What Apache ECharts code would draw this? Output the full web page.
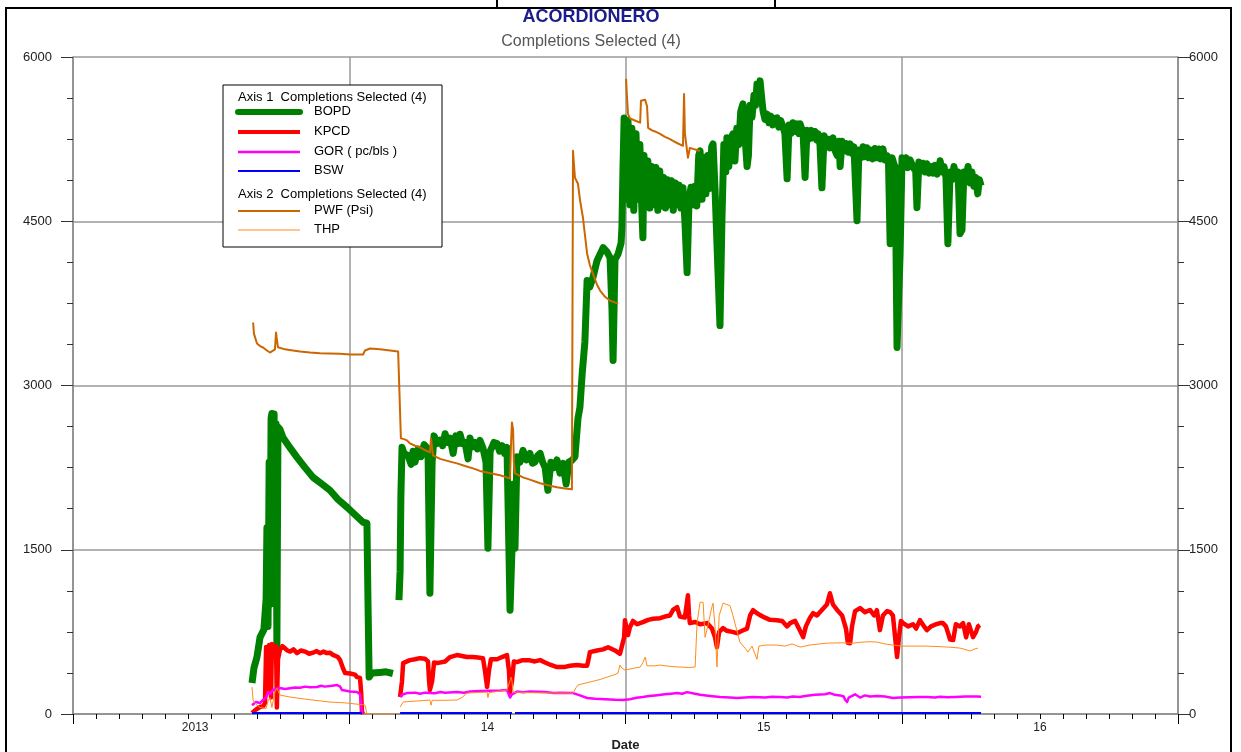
<!DOCTYPE html>
<html>
<head>
<meta charset="utf-8">
<script src="https://cdn.jsdelivr.net/npm/echarts@6/dist/echarts.min.js"></script>
<style>
html,body{margin:0;padding:0;background:#fff;}
#chart{width:1241px;height:752px;}
</style>
</head>
<body>
<div id="chart"></div>
<script>
// x values are decimal years, y values in axis units
const yearLabels = ['2013', '14', '15', '16'];
const leftTicks = [0, 1500, 3000, 4500, 6000];

const bopd = [
[2013.648,283],[2013.655,420],[2013.666,520],[2013.677,700],[2013.691,770],[2013.699,1050],[2013.702,1700],[2013.706,800],[2013.710,2300],[2013.713,1000],[2013.717,2700],[2013.720,2745],[2013.724,2500],[2013.728,2740],[2013.731,1100],[2013.735,2650],[2013.738,611],[2013.742,2620],[2013.749,2600],[2013.760,2526],[2013.786,2430],[2013.811,2344],[2013.840,2250],[2013.869,2161],[2013.901,2100],[2013.930,2043],[2013.959,1960],[2013.992,1888],[2014.021,1820],[2014.050,1751],[2014.064,1742],[2014.068,1000],[2014.072,337],[2014.082,374],[2014.111,380],[2014.133,385],[2014.158,370],
[2014.170,'-'],
[2014.180,1040],[2014.184,1300],[2014.187,2000],[2014.191,2435],[2014.198,2380],[2014.213,2360],[2014.224,2280],[2014.231,2400],[2014.238,2300],[2014.249,2420],[2014.260,2350],[2014.271,2460],[2014.285,2420],[2014.292,1103],[2014.300,2300],[2014.307,2540],[2014.318,2470],[2014.329,2500],[2014.338,2450],[2014.347,2560],[2014.356,2480],[2014.365,2520],[2014.376,2380],[2014.386,2540],[2014.394,2470],[2014.401,2555],[2014.410,2470],[2014.419,2480],[2014.430,2330],[2014.437,2520],[2014.446,2440],[2014.455,2480],[2014.464,2420],[2014.473,2500],[2014.484,2430],[2014.495,2300],[2014.502,1514],[2014.510,2400],[2014.517,2440],[2014.524,2480],[2014.535,2470],[2014.544,2400],[2014.553,2450],[2014.562,2380],[2014.571,2435],[2014.578,1500],[2014.582,948],[2014.589,1500],[2014.596,2100],[2014.600,1514],[2014.607,2350],[2014.618,2300],[2014.629,2407],[2014.641,2320],[2014.654,2380],[2014.663,2290],[2014.672,2300],[2014.682,2360],[2014.691,2380],[2014.700,2300],[2014.709,2250],[2014.719,2043],[2014.730,2300],[2014.741,2250],[2014.752,2320],[2014.763,2200],[2014.774,2289],[2014.785,2100],[2014.795,2300],[2014.806,2316],[2014.817,2350],[2014.828,2700],[2014.835,2800],[2014.843,3100],[2014.853,3400],[2014.861,3958],[2014.871,3900],[2014.882,3985],[2014.897,4140],[2014.908,4200],[2014.919,4259],[2014.933,4220],[2014.944,4168],[2014.951,3700],[2014.955,3228],[2014.962,4150],[2014.973,4200],[2014.984,4300],[2014.987,4441],[2014.991,5000],
[2014.995,5444],[2015.002,4700],[2015.009,5420],[2015.016,4650],[2015.023,5350],[2015.030,4600],[2015.038,5300],[2015.045,4700],[2015.052,5200],[2015.059,4620],[2015.063,4350],[2015.067,5100],[2015.074,4650],[2015.081,5050],[2015.088,4620],[2015.095,5000],[2015.102,4650],[2015.110,4990],[2015.117,4600],[2015.124,4960],[2015.131,4640],[2015.138,4900],[2015.145,4620],[2015.152,4880],[2015.159,4650],[2015.166,4870],[2015.173,4600],[2015.180,4850],[2015.187,4650],[2015.194,4830],[2015.201,4620],[2015.208,4806],[2015.215,4500],[2015.223,4031],[2015.230,4700],[2015.237,4810],[2015.244,4650],[2015.251,4820],[2015.258,4640],[2015.265,5100],[2015.270,5143],[2015.277,4700],[2015.284,5080],[2015.291,4750],[2015.298,5100],[2015.305,4800],[2015.312,5180],[2015.317,5207],[2015.324,4800],[2015.331,4300],[2015.342,3547],[2015.349,4500],[2015.356,5200],[2015.363,4950],[2015.367,5262],[2015.374,5000],[2015.381,5250],[2015.389,5298],[2015.396,5050],[2015.403,5350],[2015.410,5200],[2015.417,5500],[2015.425,5572],[2015.432,5300],[2015.436,5300],[2015.440,5000],[2015.445,5100],[2015.451,5560],[2015.458,5450],[2015.465,5650],[2015.471,5560],[2015.476,5754],[2015.481,5650],[2015.487,5782],[2015.494,5600],
[2015.498,5508],[2015.505,5430],[2015.512,5480],[2015.519,5400],[2015.526,5460],[2015.533,5380],[2015.540,5440],[2015.548,5444],[2015.555,5360],[2015.562,5420],[2015.567,5420],[2015.574,5330],[2015.577,5300],[2015.585,4888],[2015.592,5380],[2015.599,5300],[2015.606,5400],[2015.614,5320],[2015.621,5390],[2015.628,5300],[2015.632,5390],[2015.643,5300],[2015.650,4900],[2015.657,5330],[2015.664,5250],[2015.672,5330],[2015.679,5260],[2015.686,5320],[2015.693,5240],[2015.697,5300],[2015.704,5200],[2015.711,4806],[2015.719,5280],[2015.726,5200],[2015.733,5250],[2015.740,5170],[2015.751,5262],[2015.758,5150],[2015.766,5100],[2015.773,5230],[2015.777,5000],[2015.784,5230],[2015.791,5140],[2015.798,5210],[2015.806,5130],[2015.813,5207],[2015.820,5120],[2015.827,5180],[2015.838,4505],[2015.845,5150],[2015.852,5080],[2015.860,5180],[2015.867,5090],[2015.874,5171],[2015.881,5080],[2015.888,5150],[2015.895,5070],[2015.903,5165],[2015.910,5080],[2015.917,5160],[2015.924,5070],[2015.932,5161],[2015.939,5060],[2015.947,5100],[2015.952,5040],[2015.958,4295],[2015.965,5080],[2015.972,5020],[2015.976,5000],[2015.983,3347],[2015.994,4200],[2016.001,5080],[2016.008,5000],[2016.015,5080],[2016.022,4990],[2016.030,5060],[2016.037,5050],[2016.044,4980],[2016.050,5000],[2016.055,4624],[2016.062,5040],[2016.069,4960],[2016.077,5030],[2016.084,4950],[2016.091,5025],[2016.099,4940],[2016.106,5000],[2016.113,4940],[2016.120,5010],[2016.128,4930],[2016.135,5000],[2016.139,5052],[2016.146,4950],[2016.153,5000],[2016.160,4900],[2016.167,4295],[2016.175,4950],[2016.182,4880],[2016.189,5000],[2016.196,4900],[2016.204,4950],[2016.211,4386],[2016.218,4420],[2016.225,4950],[2016.232,4880],[2016.240,5000],[2016.247,4850],[2016.254,4950],[2016.261,4820],[2016.268,4900],[2016.275,4750],[2016.281,4880],[2016.287,4824]
];

const kpcd = [
[2013.648,10],[2013.662,40],[2013.677,64],[2013.688,70],[2013.695,100],[2013.699,611],[2013.706,200],[2013.710,630],[2013.717,150],[2013.720,640],[2013.728,560],[2013.735,620],[2013.738,60],[2013.742,500],[2013.749,584],[2013.758,620],[2013.767,600],[2013.776,580],[2013.786,570],[2013.798,590],[2013.811,556],[2013.825,580],[2013.840,570],[2013.855,550],[2013.869,560],[2013.882,575],[2013.894,555],[2013.907,570],[2013.919,556],[2013.930,560],[2013.941,540],[2013.959,520],[2013.967,492],[2013.977,420],[2013.985,374],[2014.003,370],[2014.021,360],[2014.028,337],[2014.039,330],[2014.043,200],[2014.046,20],[2014.050,0],
[2014.170,'-'],
[2014.184,155],[2014.191,300],[2014.195,465],[2014.209,480],[2014.220,492],[2014.238,500],[2014.256,510],[2014.274,505],[2014.285,480],[2014.289,300],[2014.292,219],[2014.300,300],[2014.307,470],[2014.318,465],[2014.347,480],[2014.356,500],[2014.365,520],[2014.390,538],[2014.408,530],[2014.426,520],[2014.448,520],[2014.466,515],[2014.484,510],[2014.491,400],[2014.499,246],[2014.506,400],[2014.513,500],[2014.535,500],[2014.553,520],[2014.571,538],[2014.578,400],[2014.582,200],[2014.589,300],[2014.596,480],[2014.607,474],[2014.625,490],[2014.654,490],[2014.672,480],[2014.691,492],[2014.709,470],[2014.727,450],[2014.752,429],[2014.781,430],[2014.799,440],[2014.824,447],[2014.846,440],[2014.861,440],[2014.868,520],[2014.871,565],[2014.897,580],[2014.919,590],[2014.937,610],[2014.944,602],[2014.962,580],[2014.980,550],[2014.987,538],[2014.995,700],[2014.998,857],[2015.009,720],[2015.016,793],[2015.027,850],[2015.042,820],[2015.063,839],[2015.082,860],[2015.100,870],[2015.125,875],[2015.143,890],[2015.161,900],[2015.172,950],[2015.187,976],[2015.197,890],[2015.215,880],[2015.226,1085],[2015.230,900],[2015.233,830],[2015.252,840],[2015.270,820],[2015.295,830],[2015.313,780],[2015.324,700],[2015.331,611],[2015.339,750],[2015.353,784],[2015.367,760],[2015.386,750],[2015.404,738],[2015.422,760],[2015.440,780],[2015.451,900],[2015.462,948],[2015.476,920],[2015.487,903],[2015.505,880],[2015.523,860],[2015.548,857],[2015.567,850],[2015.585,800],[2015.596,830],[2015.614,850],[2015.632,760],[2015.643,702],[2015.653,800],[2015.668,880],[2015.679,921],[2015.693,900],[2015.711,950],[2015.729,1000],[2015.740,1103],[2015.751,1000],[2015.766,950],[2015.784,900],[2015.798,780],[2015.805,650],[2015.813,647],[2015.820,800],[2015.831,940],[2015.849,967],[2015.867,930],[2015.885,950],[2015.900,900],[2015.910,948],[2015.921,766],[2015.932,900],[2015.947,940],[2015.958,930],[2015.968,900],[2015.976,700],[2015.983,520],[2015.990,700],[2015.997,850],[2016.005,830],[2016.023,800],[2016.041,820],[2016.052,780],[2016.066,857],[2016.081,800],[2016.091,766],[2016.106,800],[2016.124,820],[2016.139,830],[2016.149,830],[2016.160,800],[2016.175,680],[2016.186,675],[2016.196,820],[2016.211,800],[2016.222,830],[2016.233,700],[2016.243,820],[2016.258,702],[2016.269,750],[2016.276,800],[2016.283,812]
];

const gor = [
[2013.648,80],[2013.662,110],[2013.677,100],[2013.688,128],[2013.699,150],[2013.706,200],[2013.713,180],[2013.724,219],[2013.735,230],[2013.749,237],[2013.767,228],[2013.786,235],[2013.804,242],[2013.822,240],[2013.840,250],[2013.858,245],[2013.883,246],[2013.898,258],[2013.912,250],[2013.938,258],[2013.956,265],[2013.967,250],[2013.974,219],[2014.003,205],[2014.028,200],[2014.039,180],[2014.043,100],[2014.046,0],
[2014.170,'-'],
[2014.184,155],[2014.195,180],[2014.209,191],[2014.238,195],[2014.256,185],[2014.274,195],[2014.310,190],[2014.330,200],[2014.347,195],[2014.390,200],[2014.415,195],[2014.437,205],[2014.473,210],[2014.510,212],[2014.546,215],[2014.571,219],[2014.582,150],[2014.589,180],[2014.607,205],[2014.630,198],[2014.654,205],[2014.709,200],[2014.740,192],[2014.763,195],[2014.810,191],[2014.835,170],[2014.861,146],[2014.890,140],[2014.926,135],[2014.962,130],[2014.991,128],[2015.016,135],[2015.040,148],[2015.063,155],[2015.085,165],[2015.107,170],[2015.143,180],[2015.165,185],[2015.187,191],[2015.205,185],[2015.223,200],[2015.252,185],[2015.270,175],[2015.306,164],[2015.342,155],[2015.378,150],[2015.404,146],[2015.433,150],[2015.462,155],[2015.505,150],[2015.530,158],[2015.559,155],[2015.585,150],[2015.606,160],[2015.630,155],[2015.650,165],[2015.686,175],[2015.722,180],[2015.740,191],[2015.758,175],[2015.777,170],[2015.790,160],[2015.795,130],[2015.802,109],[2015.808,150],[2015.813,160],[2015.831,180],[2015.849,150],[2015.867,170],[2015.885,160],[2015.910,165],[2015.939,160],[2015.968,146],[2015.994,150],[2016.030,152],[2016.066,155],[2016.091,155],[2016.120,150],[2016.139,158],[2016.165,152],[2016.193,155],[2016.229,160],[2016.272,160],[2016.287,158]
];

const bsw = [
[2013.648,8],[2014.046,8],
[2014.170,'-'],
[2014.184,8],[2014.589,8],
[2014.592,'-'],
[2014.600,8],[2016.287,8]
];

const pwf = [
[2013.652,3575],[2013.655,3474],[2013.666,3383],[2013.677,3360],[2013.688,3347],[2013.702,3320],[2013.713,3301],[2013.731,3330],[2013.735,3484],[2013.738,3420],[2013.742,3350],[2013.749,3338],[2013.767,3330],[2013.796,3320],[2013.822,3310],[2013.858,3301],[2013.894,3295],[2013.930,3292],[2013.967,3290],[2014.003,3283],[2014.050,3283],[2014.057,3320],[2014.064,3329],[2014.075,3338],[2014.111,3330],[2014.148,3320],[2014.177,3310],[2014.184,3301],[2014.187,2517],[2014.198,2510],[2014.209,2499],[2014.220,2471],[2014.238,2450],[2014.256,2435],[2014.274,2410],[2014.292,2389],[2014.296,2517],[2014.300,2520],[2014.303,2362],[2014.329,2330],[2014.365,2305],[2014.390,2289],[2014.419,2265],[2014.448,2243],[2014.473,2220],[2014.510,2198],[2014.546,2180],[2014.571,2161],[2014.582,2150],[2014.586,2500],[2014.589,2663],[2014.593,2600],[2014.596,2300],[2014.600,2198],[2014.629,2161],[2014.654,2140],[2014.691,2107],[2014.727,2085],[2014.752,2070],[2014.781,2060],[2014.806,2052],[2014.810,5143],[2014.814,5000],[2014.817,4897],[2014.828,4842],[2014.835,4700],[2014.846,4532],[2014.861,4204],[2014.871,4100],[2014.882,4022],[2014.897,3920],[2014.908,3867],[2014.926,3810],[2014.944,3775],[2014.973,3748],
[2014.990,'-'],
[2015.002,5800],[2015.005,5650],[2015.009,5481],[2015.016,5440],[2015.034,5420],[2015.053,5400],[2015.056,5600],[2015.071,5610],[2015.078,5550],[2015.082,5353],[2015.096,5330],[2015.107,5320],[2015.125,5298],[2015.143,5270],[2015.161,5250],[2015.172,5234],[2015.190,5210],[2015.208,5189],[2015.212,5663],[2015.215,5300],[2015.226,5080],[2015.233,5170],[2015.244,5161],[2015.259,5150],[2015.270,5143]
];

const thp = [
[2013.648,246],[2013.652,128],[2013.662,90],[2013.677,60],[2013.688,55],[2013.699,50],[2013.706,120],[2013.713,150],[2013.720,60],[2013.731,200],[2013.738,237],[2013.749,173],[2013.786,155],[2013.811,146],[2013.858,130],[2013.894,120],[2013.930,109],[2013.967,105],[2013.992,100],[2013.995,85],[2014.057,82],[2014.064,0],[2014.166,0],
[2014.175,'-'],
[2014.184,64],[2014.195,109],[2014.220,115],[2014.256,120],[2014.292,128],[2014.296,80],[2014.300,125],[2014.347,125],[2014.390,128],[2014.408,150],[2014.426,191],[2014.455,195],[2014.499,200],[2014.502,150],[2014.506,195],[2014.546,210],[2014.571,219],[2014.586,337],[2014.589,300],[2014.593,200],[2014.654,195],[2014.727,192],[2014.810,191],[2014.821,240],[2014.828,265],[2014.871,292],[2014.908,315],[2014.933,337],[2014.962,360],[2014.973,374],[2014.980,447],[2014.987,420],[2014.998,401],[2015.024,415],[2015.053,429],[2015.063,470],[2015.071,520],[2015.078,440],[2015.107,440],[2015.125,447],[2015.161,435],[2015.187,430],[2015.233,425],[2015.252,429],[2015.259,830],[2015.270,1021],[2015.281,1020],[2015.288,700],[2015.299,812],[2015.310,950],[2015.317,1012],[2015.324,800],[2015.331,429],[2015.339,900],[2015.353,1012],[2015.367,1000],[2015.378,990],[2015.389,900],[2015.396,830],[2015.414,657],[2015.433,600],[2015.443,565],[2015.458,620],[2015.476,500],[2015.483,620],[2015.505,629],[2015.523,630],[2015.548,629],[2015.577,620],[2015.603,640],[2015.632,611],[2015.668,630],[2015.704,640],[2015.729,647],[2015.777,650],[2015.824,647],[2015.849,655],[2015.885,660],[2015.910,657],[2015.939,640],[2015.968,629],[2016.005,620],[2016.048,620],[2016.091,620],[2016.139,615],[2016.175,610],[2016.211,602],[2016.229,590],[2016.247,575],[2016.265,595],[2016.276,602]
];

const seriesDefs = [
  {name:'BOPD', data:bopd, axis:0, color:'#008000', width:7},
  {name:'KPCD', data:kpcd, axis:0, color:'#ff0000', width:4.5},
  {name:'GOR ( pc/bls )', data:gor, axis:0, color:'#ff00ff', width:2.5},
  {name:'BSW', data:bsw, axis:0, color:'#0000ff', width:2},
  {name:'PWF (Psi)', data:pwf, axis:1, color:'#cc6600', width:2},
  {name:'THP', data:thp, axis:1, color:'#ff8c1a', width:1}
];

const FONT = '"Liberation Sans", Arial, sans-serif';
const chart = echarts.init(document.getElementById('chart'), null, {renderer:'canvas'});

const legendX = 223, legendY = 85;
const legendGraphics = [
  {type:'rect', shape:{x:legendX, y:legendY, width:219, height:162}, style:{fill:'#fff', stroke:'#000', lineWidth:1}, z:100},
  {type:'text', x:238, y:97, style:{text:'Axis 1  Completions Selected (4)', fill:'#000', font:'13px '+FONT, verticalAlign:'middle', textVerticalAlign:'middle'}, z:101},
  {type:'text', x:238, y:194, style:{text:'Axis 2  Completions Selected (4)', fill:'#000', font:'13px '+FONT, verticalAlign:'middle', textVerticalAlign:'middle'}, z:101}
];
const legendRows = [112, 132, 152, 171, 211, 230];
const legendWidths = [6, 4, 2.5, 2, 2, 1];
seriesDefs.forEach((s, i) => {
  const y = legendRows[i];
  legendGraphics.push({type:'line', shape:{x1:238, y1:y, x2:300, y2:y}, style:{stroke:s.color, lineWidth:legendWidths[i], lineCap: i===0?'round':'butt'}, z:101});
  legendGraphics.push({type:'text', x:314, y:y - 1, style:{text:s.name, fill:'#000', font:'13px '+FONT, verticalAlign:'middle', textVerticalAlign:'middle'}, z:101});
});

const plainNum = v => String(v);

const option = {
  animation:false,
  backgroundColor:'#fff',
  grid:{left:73, right:63, top:57, bottom:38, containLabel:false, outerBoundsMode:'none'},
  xAxis:[
    {type:'value', min:2013, max:2017, interval:1, position:'bottom',
     axisLine:{show:true, onZero:false, lineStyle:{color:'#8a8a8a', width:1.5}},
     axisTick:{show:true, length:10, lineStyle:{color:'#000', width:1}},
     minorTick:{show:true, splitNumber:12, length:5, lineStyle:{color:'#000', width:1}},
     axisLabel:{show:false},
     splitLine:{show:true, lineStyle:{color:'#9a9a9a', width:1.5}}},
    {type:'category', data:yearLabels, position:'bottom', boundaryGap:true,
     axisLine:{show:false}, axisTick:{show:false}, splitLine:{show:false},
     axisLabel:{margin:8, fontSize:12, color:'#222', fontFamily:FONT,
       formatter:(v, i) => i === 0 ? '{a|' + v + '}' : v,
       rich:{a:{fontSize:12, color:'#222', fontFamily:FONT, padding:[0,32,0,0]}}},
     name:'Date', nameLocation:'middle', nameGap:24,
     nameTextStyle:{fontWeight:'bold', fontSize:13, color:'#222', fontFamily:FONT}}
  ],
  yAxis:[
    {type:'value', min:leftTicks[0], max:leftTicks[leftTicks.length-1], interval:leftTicks[1]-leftTicks[0], position:'left',
     axisLine:{show:true, onZero:false, lineStyle:{color:'#8a8a8a', width:1.5}},
     axisTick:{show:true, length:12, lineStyle:{color:'#333', width:1}},
     minorTick:{show:true, splitNumber:4, length:6, lineStyle:{color:'#333', width:1}},
     axisLabel:{margin:21, fontSize:13, color:'#222', fontFamily:FONT, formatter:plainNum},
     splitLine:{show:true, lineStyle:{color:'#9a9a9a', width:1.5}}},
    {type:'value', min:leftTicks[0], max:leftTicks[leftTicks.length-1], interval:leftTicks[1]-leftTicks[0], position:'right',
     axisLine:{show:true, onZero:false, lineStyle:{color:'#8a8a8a', width:1.5}},
     axisTick:{show:true, length:12, lineStyle:{color:'#333', width:1}},
     minorTick:{show:true, splitNumber:4, length:6, lineStyle:{color:'#333', width:1}},
     axisLabel:{margin:11, fontSize:13, color:'#222', fontFamily:FONT, formatter:plainNum},
     splitLine:{show:false}}
  ],
  series: seriesDefs.map(s => ({
    name:s.name, type:'line', xAxisIndex:0, yAxisIndex:s.axis, data:s.data,
    showSymbol:false, symbol:'none', connectNulls:false, clip:true,
    lineStyle:{color:s.color, width:s.width, join:'round'},
    itemStyle:{color:s.color}, emphasis:{disabled:true}
  })),
  graphic:[
    {type:'rect', shape:{x:6, y:8, width:1225, height:760}, style:{fill:'none', stroke:'#000', lineWidth:2}, silent:true, z:50},
    {type:'line', shape:{x1:497, y1:0, x2:497, y2:8}, style:{stroke:'#000', lineWidth:2}, z:50},
    {type:'line', shape:{x1:775, y1:0, x2:775, y2:8}, style:{stroke:'#000', lineWidth:2}, z:50},
    {type:'text', x:591, y:17, style:{text:'ACORDIONERO', fill:'#1c1c8c', font:'bold 18px '+FONT, align:'center', textAlign:'center', verticalAlign:'middle', textVerticalAlign:'middle'}, z:50},
    {type:'text', x:591, y:42, style:{text:'Completions Selected (4)', fill:'#555', font:'16px '+FONT, align:'center', textAlign:'center', verticalAlign:'middle', textVerticalAlign:'middle'}, z:50}
  ].concat(legendGraphics)
};
chart.setOption(option);
</script>
</body>
</html>
